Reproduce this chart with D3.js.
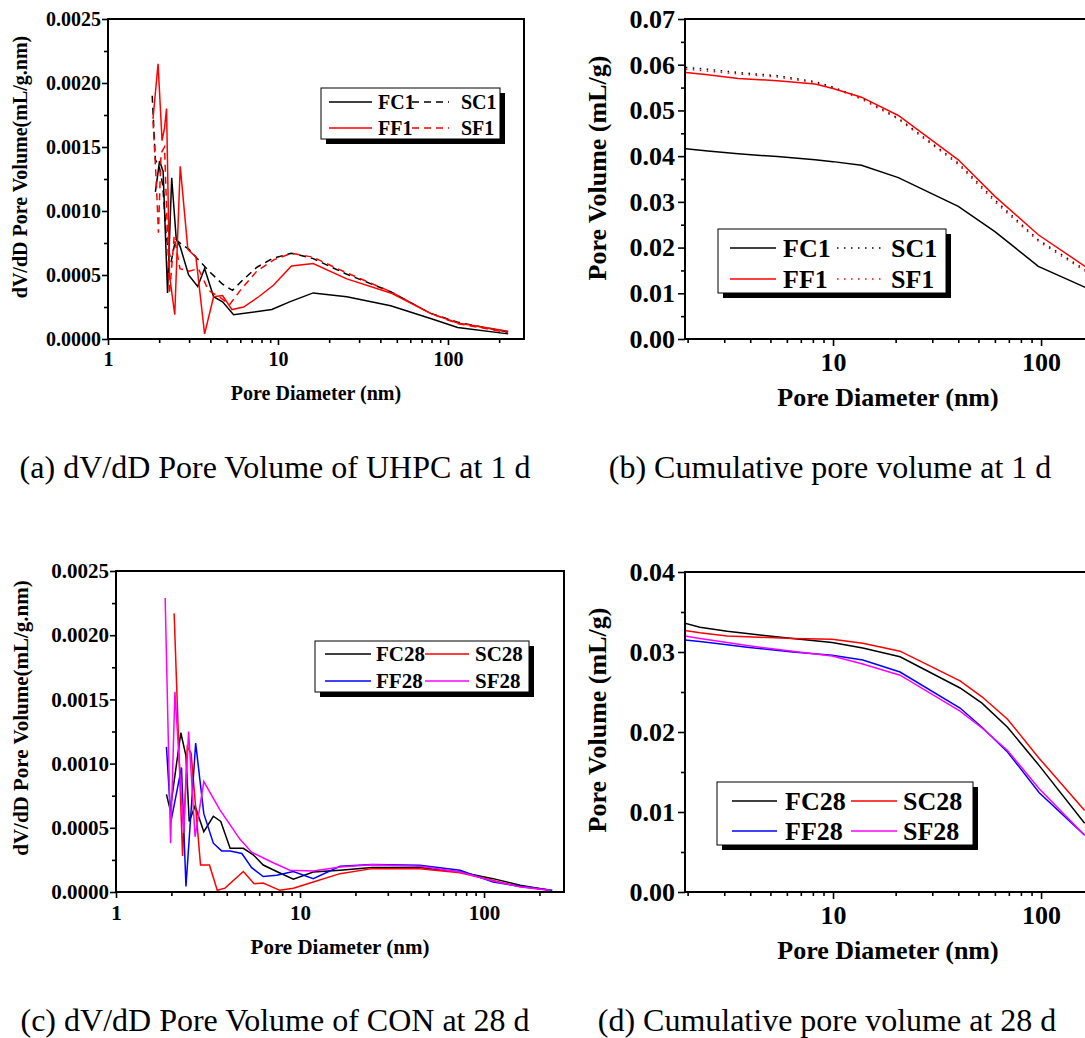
<!DOCTYPE html>
<html>
<head>
<meta charset="utf-8">
<script src="https://cdn.jsdelivr.net/npm/d3@7"></script>
<style>
    body { margin: 0; background: #fff; }
    svg { display: block; }
    text { font-family: "Liberation Serif", "Times New Roman", serif; }
</style>
</head>
<body>
<div id="chart"></div>
<script>
// ---------- (a) dV/dD, UHPC at 1 d ----------
const fc1D = [1.90, 2.01, 2.11, 2.24, 2.37, 2.52, 2.66, 2.98, 3.37, 3.70, 4.18, 4.72, 5.48, 9.2, 11.7, 16.1, 25.4, 46, 79, 114, 226];
const fc1V = [0.00115, 0.00139, 0.00131, 0.00036, 0.00126, 0.00078, 0.00072, 0.00050, 0.00041, 0.00055, 0.00033, 0.00029, 0.00019, 0.00023, 0.00029, 0.00036, 0.00033, 0.00026, 0.00016, 0.00009, 0.00004];
const sc1D = [1.82, 1.90, 2.0, 2.1, 2.2, 2.35, 2.5, 2.7, 3.0, 3.4, 4.0, 4.7, 5.4, 6.2, 7.5, 9.3, 12, 16, 25, 46, 79, 115, 226];
const sc1V = [0.0019, 0.0014, 0.00135, 0.0012, 0.0008, 0.0006, 0.00078, 0.00074, 0.0007, 0.00062, 0.00052, 0.00043, 0.00038, 0.00046, 0.00056, 0.00063, 0.00067, 0.00063, 0.00051, 0.00037, 0.0002, 0.00013, 0.000055];
const ff1D = [1.84, 1.97, 2.08, 2.15, 2.21, 2.30, 2.47, 2.66, 2.95, 3.29, 3.70, 4.18, 4.72, 5.36, 6.28, 7.7, 9.4, 12.0, 16.1, 25.4, 46, 79, 114, 226];
const ff1V = [0.00172, 0.00215, 0.00155, 0.00165, 0.0018, 0.0005, 0.00019, 0.00135, 0.0007, 0.00064, 0.00004, 0.00033, 0.00034, 0.00023, 0.00025, 0.00033, 0.00042, 0.00057, 0.00059, 0.00047, 0.00036, 0.0002, 0.000125, 0.00006];
const sf1D = [1.84, 1.92, 1.98, 2.05, 2.15, 2.3, 2.45, 2.65, 3.0, 3.4, 3.9, 4.5, 5.2, 6.0, 7.5, 9.5, 12, 16, 25, 46, 79, 114, 226];
const sf1V = [0.0017, 0.00125, 0.00083, 0.00145, 0.0015, 0.00035, 0.0008, 0.00055, 0.00053, 0.00055, 0.00038, 0.00033, 0.00027, 0.00038, 0.00053, 0.00062, 0.00067, 0.00064, 0.00052, 0.00037, 0.0002, 0.00012, 0.00005];

// ---------- (b) cumulative, 1 d ----------
const cumD1 = [1.96, 2.5, 3.5, 5.4, 8.2, 10, 13.7, 20.6, 40, 60, 97, 165];
const cumFC1 = [0.0416, 0.0411, 0.0405, 0.0399, 0.0392, 0.0388, 0.0380, 0.0353, 0.0290, 0.0235, 0.0159, 0.0112];
const cumSC1 = [0.0594, 0.0590, 0.0583, 0.0576, 0.0563, 0.0551, 0.0527, 0.0483, 0.0385, 0.0304, 0.0217, 0.0150];
const cumFF1 = [0.0583, 0.0578, 0.0570, 0.0565, 0.0558, 0.0548, 0.0529, 0.0489, 0.0392, 0.0312, 0.0228, 0.0157];
const cumSF1 = [0.0590, 0.0586, 0.0580, 0.0573, 0.0561, 0.0549, 0.0525, 0.0481, 0.0382, 0.0300, 0.0214, 0.0147];

// ---------- (c) dV/dD, CON at 28 d ----------
const fc28D = [1.88, 1.97, 2.25, 2.4, 2.5, 2.69, 3.0, 3.38, 3.71, 4.17, 4.92, 5.57, 6.31, 7.47, 9.2, 11.8, 16.5, 24.6, 44.8, 74, 112, 157, 228];
const fc28V = [0.00076, 0.00064, 0.00124, 0.00106, 0.00055, 0.00067, 0.00047, 0.00059, 0.00055, 0.00034, 0.00034, 0.00029, 0.00021, 0.00016, 0.0001, 0.000156, 0.00017, 0.00019, 0.00019, 0.000156, 0.000104, 0.000052, 0.000013];
const sc28D = [2.07, 2.3, 2.44, 2.56, 2.88, 3.22, 3.55, 3.91, 4.92, 5.63, 6.31, 7.77, 9.2, 11.8, 16.5, 24.6, 44.8, 74, 112, 157, 228];
const sc28V = [0.00217, 0.00028, 0.00113, 0.00108, 0.00021, 0.00021, 0.000013, 0.00003, 0.00016, 0.000065, 0.00007, 0.000013, 0.00003, 0.000078, 0.000143, 0.000182, 0.000182, 0.00015, 0.00009, 0.00004, 0.000013];
const ff28D = [1.88, 1.99, 2.27, 2.4, 2.71, 3.0, 3.38, 3.75, 4.17, 4.83, 5.46, 6.31, 7.47, 9.2, 11.8, 16.5, 24.6, 44.8, 74, 112, 157, 235];
const ff28V = [0.00113, 0.00055, 0.00097, 0.000044, 0.00116, 0.00061, 0.00038, 0.00032, 0.00032, 0.0003, 0.00019, 0.00012, 0.00013, 0.00016, 0.000104, 0.0002, 0.000215, 0.000208, 0.000169, 0.000078, 0.000044, 0.000013];
const sf28D = [1.85, 1.98, 2.09, 2.33, 2.48, 2.69, 3.0, 3.67, 4.72, 5.46, 7.1, 8.8, 11.8, 16.5, 24.6, 44.8, 74, 112, 157, 228];
const sf28V = [0.00229, 0.00038, 0.00156, 0.00046, 0.00125, 0.00043, 0.00086, 0.00064, 0.00041, 0.00031, 0.00023, 0.00017, 0.000164, 0.000195, 0.000213, 0.0002, 0.000156, 0.000086, 0.00004, 0.000013];

// ---------- (d) cumulative, 28 d ----------
const cumD28 = [1.94, 2.29, 3.1, 3.86, 6.4, 9.9, 13.9, 21, 40.8, 52, 69, 98, 162];
const cumFC28 = [0.0336, 0.0331, 0.0326, 0.0323, 0.0317, 0.0312, 0.0305, 0.0294, 0.0255, 0.0236, 0.0206, 0.0158, 0.0086];
const cumSC28 = [0.0327, 0.0324, 0.0320, 0.0319, 0.0317, 0.0316, 0.0311, 0.0301, 0.0264, 0.0244, 0.0216, 0.0167, 0.0102];
const cumFF28 = [0.0315, 0.0313, 0.0309, 0.0306, 0.0300, 0.0296, 0.0290, 0.0275, 0.0230, 0.0206, 0.0175, 0.0124, 0.0071];
const cumSF28 = [0.0320, 0.0317, 0.0312, 0.0308, 0.0301, 0.0295, 0.0285, 0.0271, 0.0226, 0.0205, 0.0177, 0.0129, 0.0071];

// tick values / labels
const xTicksFull = [1, 10, 100];
const xTicksCum = [10, 100];
const yTicksDiff = [0, 0.0005, 0.0010, 0.0015, 0.0020, 0.0025];
const yTicksCum1 = [0, 0.01, 0.02, 0.03, 0.04, 0.05, 0.06, 0.07];
const yTicksCum28 = [0, 0.01, 0.02, 0.03, 0.04];

const xTitle = "Pore Diameter (nm)";
const yTitleDiff = "dV/dD Pore Volume(mL/g.nm)";
const yTitleCum = "Pore Volume (mL/g)";
const captions = [
    "(a) dV/dD Pore Volume of UHPC at 1 d",
    "(b) Cumulative pore volume at 1 d",
    "(c) dV/dD Pore Volume of CON at 28 d",
    "(d) Cumulative pore volume at 28 d"
];

const zip = (xs, ys) => xs.map((d, i) => ({x: d, y: ys[i]}));

const W = 1085, H = 1038;
const svg = d3.select("#chart").append("svg")
    .attr("width", W)
    .attr("height", H);

let clipId = 0;

function drawPanel(p) {
    const x = d3.scaleLog().domain(p.xDomain).range([p.left, p.right]);
    const y = d3.scaleLinear().domain([0, d3.max(p.yTicks)]).range([p.bottom, p.top]);
    const g = svg.append("g");

    // minor ticks (log decades and half steps)
    const xMinor = [];
    [1, 10, 100].forEach(dec => d3.range(2, 10).forEach(m => {
        const v = m * dec;
        if (v > p.xDomain[0] && v < p.xDomain[1]) xMinor.push(v);
    }));
    const yStep = p.yTicks[1] - p.yTicks[0];
    const yMinor = p.yTicks.slice(0, -1).map(v => v + yStep / 2);

    const xMin = g.append("g").attr("transform", `translate(0,${p.bottom})`)
        .call(d3.axisBottom(x).tickValues(xMinor).tickSize(p.minor).tickFormat(""));
    const xMaj = g.append("g").attr("transform", `translate(0,${p.bottom})`)
        .call(d3.axisBottom(x).tickValues(p.xTicks).tickSize(p.major).tickPadding(p.xPad).tickFormat(d3.format("d")));
    const yMin = g.append("g").attr("transform", `translate(${p.left},0)`)
        .call(d3.axisLeft(y).tickValues(yMinor).tickSize(p.minor).tickFormat(""));
    const yMaj = g.append("g").attr("transform", `translate(${p.left},0)`)
        .call(d3.axisLeft(y).tickValues(p.yTicks).tickSize(p.major).tickPadding(p.yPad).tickFormat(d3.format(p.yFmt)));

    [xMin, xMaj, yMin, yMaj].forEach(a => {
        a.select(".domain").remove();
        a.selectAll("line").attr("stroke", "#000").attr("stroke-width", 1.6);
        a.selectAll("text")
            .attr("fill", "#000")
            .style("font-size", p.tickFont + "px")
            .style("font-weight", "bold");
    });

    // series
    const clip = "clip" + (clipId++);
    g.append("clipPath").attr("id", clip)
        .append("rect")
        .attr("x", p.left).attr("y", p.top)
        .attr("width", p.right - p.left).attr("height", p.bottom - p.top);

    const line = d3.line().x(d => x(d.x)).y(d => y(d.y));
    const lines = g.append("g").attr("clip-path", `url(#${clip})`);
    p.series.forEach(s => {
        lines.append("path")
            .datum(s.data)
            .attr("fill", "none")
            .attr("stroke", s.color)
            .attr("stroke-width", s.width || 1.5)
            .attr("stroke-dasharray", s.dash || null)
            .attr("d", line);
    });

    // frame
    g.append("rect")
        .attr("x", p.left).attr("y", p.top)
        .attr("width", p.right - p.left).attr("height", p.bottom - p.top)
        .attr("fill", "none")
        .attr("stroke", "#000")
        .attr("stroke-width", 2);

    // axis titles
    g.append("text")
        .attr("x", p.xTitleX).attr("y", p.xTitleY)
        .attr("text-anchor", "middle")
        .style("font-size", p.titleFont + "px")
        .style("font-weight", "bold")
        .text(xTitle);

    g.append("text")
        .attr("transform", `translate(${p.yTitleX},${p.yTitleY}) rotate(-90)`)
        .attr("text-anchor", "middle")
        .style("font-size", p.titleFont + "px")
        .style("font-weight", "bold")
        .text(p.yTitle);

    // legend: white box with black drop shadow, 2 x 2 entries
    const L = p.legend;
    g.append("rect")
        .attr("x", L.x + 5).attr("y", L.y + 5)
        .attr("width", L.w).attr("height", L.h)
        .attr("fill", "#000");
    g.append("rect")
        .attr("x", L.x).attr("y", L.y)
        .attr("width", L.w).attr("height", L.h)
        .attr("fill", "#fff")
        .attr("stroke", "#000")
        .attr("stroke-width", 1);

    p.series.forEach((s, i) => {
        const row = Math.floor(i / 2), col = i % 2;
        const cy = L.y + L.rows[row];
        const c = L.cols[col];
        g.append("line")
            .attr("x1", L.x + c[0]).attr("x2", L.x + c[1])
            .attr("y1", cy).attr("y2", cy)
            .attr("stroke", s.color)
            .attr("stroke-width", s.width || 1.5)
            .attr("stroke-dasharray", s.dash || null);
        g.append("text")
            .attr("x", L.x + c[2]).attr("y", cy)
            .attr("dy", "0.35em")
            .style("font-size", L.font + "px")
            .style("font-weight", "bold")
            .text(s.name);
    });

    // caption
    svg.append("text")
        .attr("x", p.capX).attr("y", p.capY)
        .attr("text-anchor", "middle")
        .style("font-size", "32px")
        .text(p.caption);
}

// (a)
drawPanel({
    left: 108, right: 524, top: 19, bottom: 339,
    xDomain: [1, 280], xTicks: xTicksFull, yTicks: yTicksDiff, yFmt: ".4f",
    major: 6, minor: 4, xPad: 7, yPad: 1, tickFont: 20, titleFont: 20,
    xTitleX: 316, xTitleY: 400, yTitle: yTitleDiff, yTitleX: 27, yTitleY: 167,
    series: [
        {name: "FC1", color: "#000", data: zip(fc1D, fc1V)},
        {name: "SC1", color: "#000", dash: "7,5", data: zip(sc1D, sc1V)},
        {name: "FF1", color: "#ff0000", data: zip(ff1D, ff1V)},
        {name: "SF1", color: "#ff0000", dash: "7,5", data: zip(sf1D, sf1V)}
    ],
    legend: {x: 321, y: 88, w: 179, h: 51, rows: [14, 40], font: 20,
             cols: [[8, 51, 57], [91, 128, 140]]},
    caption: captions[0], capX: 275, capY: 478
});

// (b)
drawPanel({
    left: 685, right: 1100, top: 19, bottom: 339,
    xDomain: [1.943, 192], xTicks: xTicksCum, yTicks: yTicksCum1, yFmt: ".2f",
    major: 7, minor: 4, xPad: 7, yPad: 3, tickFont: 26, titleFont: 26,
    xTitleX: 888, xTitleY: 406, yTitle: yTitleCum, yTitleX: 606, yTitleY: 168,
    series: [
        {name: "FC1", color: "#000", data: zip(cumD1, cumFC1)},
        {name: "SC1", color: "#000", dash: "1.5,5.5", data: zip(cumD1, cumSC1)},
        {name: "FF1", color: "#ff0000", data: zip(cumD1, cumFF1)},
        {name: "SF1", color: "#ff0000", dash: "1.5,5.5", data: zip(cumD1, cumSF1)}
    ],
    legend: {x: 718, y: 229, w: 228, h: 64, rows: [19, 50], font: 26,
             cols: [[12, 58, 65], [119, 167, 173]]},
    caption: captions[1], capX: 830, capY: 478
});

// (c)
drawPanel({
    left: 116, right: 564, top: 571, bottom: 892,
    xDomain: [1, 272], xTicks: xTicksFull, yTicks: yTicksDiff, yFmt: ".4f",
    major: 6, minor: 4, xPad: 7, yPad: 1, tickFont: 21, titleFont: 21,
    xTitleX: 340, xTitleY: 954, yTitle: yTitleDiff, yTitleX: 28, yTitleY: 718,
    series: [
        {name: "FC28", color: "#000", data: zip(fc28D, fc28V)},
        {name: "SC28", color: "#ff0000", data: zip(sc28D, sc28V)},
        {name: "FF28", color: "#0000ff", data: zip(ff28D, ff28V)},
        {name: "SF28", color: "#ff00ff", data: zip(sf28D, sf28V)}
    ],
    legend: {x: 315, y: 641, w: 214, h: 51, rows: [13, 40], font: 21,
             cols: [[10, 56, 61], [110, 154, 160]]},
    caption: captions[2], capX: 275, capY: 1031
});

// (d)
drawPanel({
    left: 685, right: 1100, top: 572, bottom: 892,
    xDomain: [1.943, 192], xTicks: xTicksCum, yTicks: yTicksCum28, yFmt: ".2f",
    major: 7, minor: 4, xPad: 7, yPad: 3, tickFont: 26, titleFont: 26,
    xTitleX: 888, xTitleY: 959, yTitle: yTitleCum, yTitleX: 606, yTitleY: 720,
    series: [
        {name: "FC28", color: "#000", data: zip(cumD28, cumFC28)},
        {name: "SC28", color: "#ff0000", data: zip(cumD28, cumSC28)},
        {name: "FF28", color: "#0000ff", data: zip(cumD28, cumFF28)},
        {name: "SF28", color: "#ff00ff", data: zip(cumD28, cumSF28)}
    ],
    legend: {x: 717, y: 782, w: 256, h: 63, rows: [19, 49], font: 26,
             cols: [[15, 60, 68], [134, 180, 186]]},
    caption: captions[3], capX: 827, capY: 1031
});
</script>
</body>
</html>
